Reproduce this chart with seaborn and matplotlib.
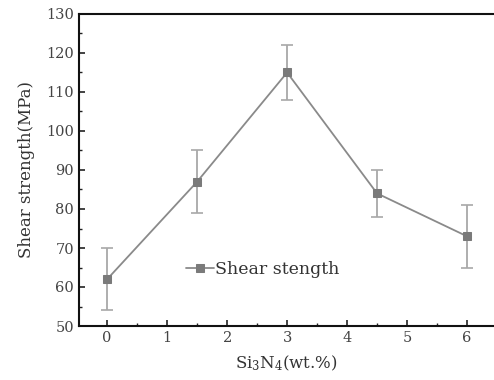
import numpy as np
import pandas as pd
import matplotlib
matplotlib.use("Agg")
import matplotlib.pyplot as plt
import seaborn as sns
from matplotlib.ticker import MultipleLocator

# Data
si3n4 = [0, 1.5, 3, 4.5, 6]
shear = [62, 87, 115, 84, 73]
err = [8, 8, 7, 6, 8]

sns.set_style("ticks")
plt.rcParams['font.family'] = ['DejaVu Serif']
plt.rcParams['mathtext.fontset'] = 'dejavuserif'

df = pd.DataFrame({"x": si3n4, "y": shear, "e": err})

fig = plt.figure(figsize=(4.94, 3.8), dpi=100)
ax = fig.add_axes([79 / 494, 1 - 326 / 380, 1 - 79 / 494, (326 - 14) / 380])

line_col = '#8a8a8a'
ax.errorbar(df["x"], df["y"], yerr=df["e"], fmt='none', ecolor='#a8a8a8',
            elinewidth=1.3, capsize=4, capthick=1.2, zorder=1)
sns.lineplot(data=df, x="x", y="y", ax=ax, color=line_col, lw=1.3,
             marker='s', markersize=6, markerfacecolor='#7a7a7a',
             markeredgecolor='#7a7a7a', label='Shear stength', zorder=2)

ax.set_xlim(-0.47, 6.45)
ax.set_ylim(50, 130)
ax.xaxis.set_major_locator(MultipleLocator(1))
ax.xaxis.set_minor_locator(MultipleLocator(0.5))
ax.yaxis.set_major_locator(MultipleLocator(10))
ax.yaxis.set_minor_locator(MultipleLocator(5))
ax.tick_params(which='both', direction='in', colors='#222222', labelcolor='#444444')
ax.tick_params(which='major', length=4, width=1.2, labelsize=10.5)
ax.tick_params(which='minor', length=2, width=1)

for s in ['left', 'bottom', 'top']:
    ax.spines[s].set_linewidth(1.5)
    ax.spines[s].set_color('#111111')
ax.spines['right'].set_visible(False)

ax.set_xlabel(r'Si$_3$N$_4$(wt.%)', fontsize=12, color='#333333', labelpad=6)
ax.set_ylabel('Shear strength(MPa)', fontsize=12, color='#333333', labelpad=8)

ax.legend(loc='center left', bbox_to_anchor=(0.22, 0.18), frameon=False,
          fontsize=12.5, handlelength=1.6, handletextpad=0.1,
          labelcolor='#333333')

fig.savefig('out.png', dpi=100)
